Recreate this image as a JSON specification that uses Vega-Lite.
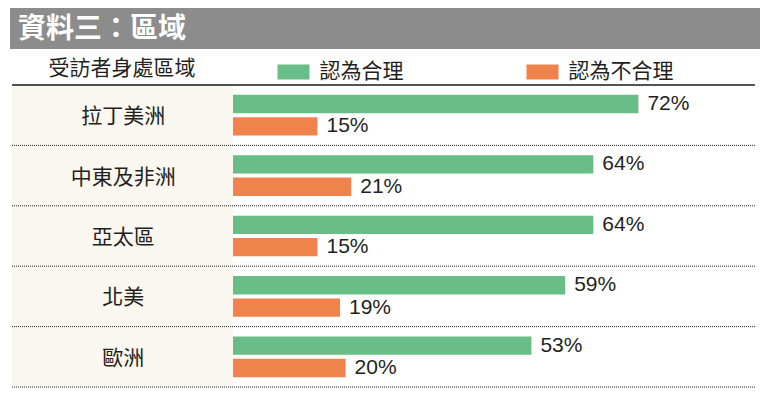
{
  "$schema": "https://vega.github.io/schema/vega-lite/v6.json",
  "background": "white",
  "padding": {"left": 10, "top": 8, "right": 0, "bottom": 0},
  "spacing": 36,
  "bounds": "flush",
  "config": {
    "view": {"stroke": null},
    "font": "Liberation Sans",
    "legend": {"labelLimit": 0, "titleLimit": 0}
  },
  "datasets": {
    "values": [
      {"region": "拉丁美洲", "series": "認為合理", "value": 0.72},
      {"region": "拉丁美洲", "series": "認為不合理", "value": 0.15},
      {"region": "中東及非洲", "series": "認為合理", "value": 0.64},
      {"region": "中東及非洲", "series": "認為不合理", "value": 0.21},
      {"region": "亞太區", "series": "認為合理", "value": 0.64},
      {"region": "亞太區", "series": "認為不合理", "value": 0.15},
      {"region": "北美", "series": "認為合理", "value": 0.59},
      {"region": "北美", "series": "認為不合理", "value": 0.19},
      {"region": "歐洲", "series": "認為合理", "value": 0.53},
      {"region": "歐洲", "series": "認為不合理", "value": 0.20}
    ],
    "regions": [
      {"region": "拉丁美洲"},
      {"region": "中東及非洲"},
      {"region": "亞太區"},
      {"region": "北美"},
      {"region": "歐洲"}
    ],
    "heading": [{"title": "資料三：區域"}]
  },
  "resolve": {"scale": {"x": "independent", "y": "independent"}},
  "vconcat": [
    {
      "width": 750,
      "height": 41,
      "view": {"fill": "#8c8c8c", "stroke": null},
      "data": {"name": "heading"},
      "mark": {"type": "text", "align": "left", "baseline": "middle", "dx": 8, "dy": 1, "font": "Noto Sans CJK TC", "fontWeight": "bold", "fontSize": 28, "color": "white"},
      "encoding": {
        "x": {"datum": 0, "type": "quantitative", "scale": {"domain": [0, 1]}, "axis": null},
        "text": {"field": "title"}
      }
    },
    {
      "width": 750,
      "height": 302,
      "layer": [
        {
          "data": {"name": "regions"},
          "mark": {"type": "rect", "color": "#f9f7f0"},
          "encoding": {
            "y": {"field": "region", "type": "nominal", "sort": null, "scale": {"paddingInner": 0, "paddingOuter": 0}, "axis": null},
            "x": {"datum": -0.3925, "type": "quantitative", "scale": {"domain": [-0.3961, 0.936], "nice": false, "zero": false}, "axis": null},
            "x2": {"datum": 0}
          }
        },
        {
          "data": {"name": "regions"},
          "mark": {"type": "rule", "color": "#222222", "strokeWidth": 1, "strokeDash": [1, 1]},
          "encoding": {
            "y": {"field": "region", "type": "nominal", "sort": null, "bandPosition": 1},
            "x": {"datum": -0.3925, "type": "quantitative"},
            "x2": {"datum": 0.927}
          }
        },
        {
          "data": {"name": "regions"},
          "transform": [{"filter": "datum.region === '拉丁美洲'"}],
          "mark": {"type": "rule", "color": "#1a1a1a", "strokeWidth": 1.3},
          "encoding": {
            "y": {"field": "region", "type": "nominal", "sort": null, "bandPosition": 0},
            "x": {"datum": -0.3925, "type": "quantitative"},
            "x2": {"datum": 0.927}
          }
        },
        {
          "data": {"name": "regions"},
          "mark": {"type": "text", "align": "center", "baseline": "middle", "dy": 2, "font": "Noto Sans CJK TC", "fontSize": 21, "color": "#231f20"},
          "encoding": {
            "y": {"field": "region", "type": "nominal", "sort": null},
            "x": {"datum": -0.195, "type": "quantitative"},
            "text": {"field": "region"}
          }
        },
        {
          "data": {"name": "values"},
          "mark": {"type": "bar"},
          "encoding": {
            "y": {"field": "region", "type": "nominal", "sort": null},
            "yOffset": {"field": "series", "type": "nominal", "sort": ["認為合理", "認為不合理"], "scale": {"paddingInner": 0.18, "paddingOuter": 0.442}},
            "x": {"field": "value", "type": "quantitative"},
            "color": {
              "field": "series", "type": "nominal",
              "scale": {"domain": ["認為合理", "認為不合理"], "range": ["#69bd86", "#f0834b"]},
              "legend": {
                "orient": "none", "legendX": 38.5, "legendY": 48,
                "direction": "horizontal",
                "title": "受訪者身處區域",
                "titleOrient": "left",
                "titleFont": "Noto Sans CJK TC", "titleFontSize": 21, "titleFontWeight": "normal", "titleColor": "#231f20",
                "titlePadding": 82,
                "labelFont": "Noto Sans CJK TC", "labelFontSize": 21, "labelColor": "#231f20",
                "labelOffset": 10,
                "symbolType": "M-1,-0.47H1V0.47H-1Z", "symbolSize": 1024, "symbolStrokeWidth": 0, "symbolOpacity": 1,
                "columnPadding": 123
              }
            }
          }
        },
        {
          "data": {"name": "values"},
          "mark": {"type": "text", "align": "left", "baseline": "middle", "dx": 9, "fontSize": 21, "color": "#231f20"},
          "encoding": {
            "y": {"field": "region", "type": "nominal", "sort": null},
            "yOffset": {"field": "series", "type": "nominal", "sort": ["認為合理", "認為不合理"]},
            "x": {"field": "value", "type": "quantitative"},
            "text": {"field": "value", "type": "quantitative", "format": ".0%"}
          }
        }
      ]
    }
  ]
}
